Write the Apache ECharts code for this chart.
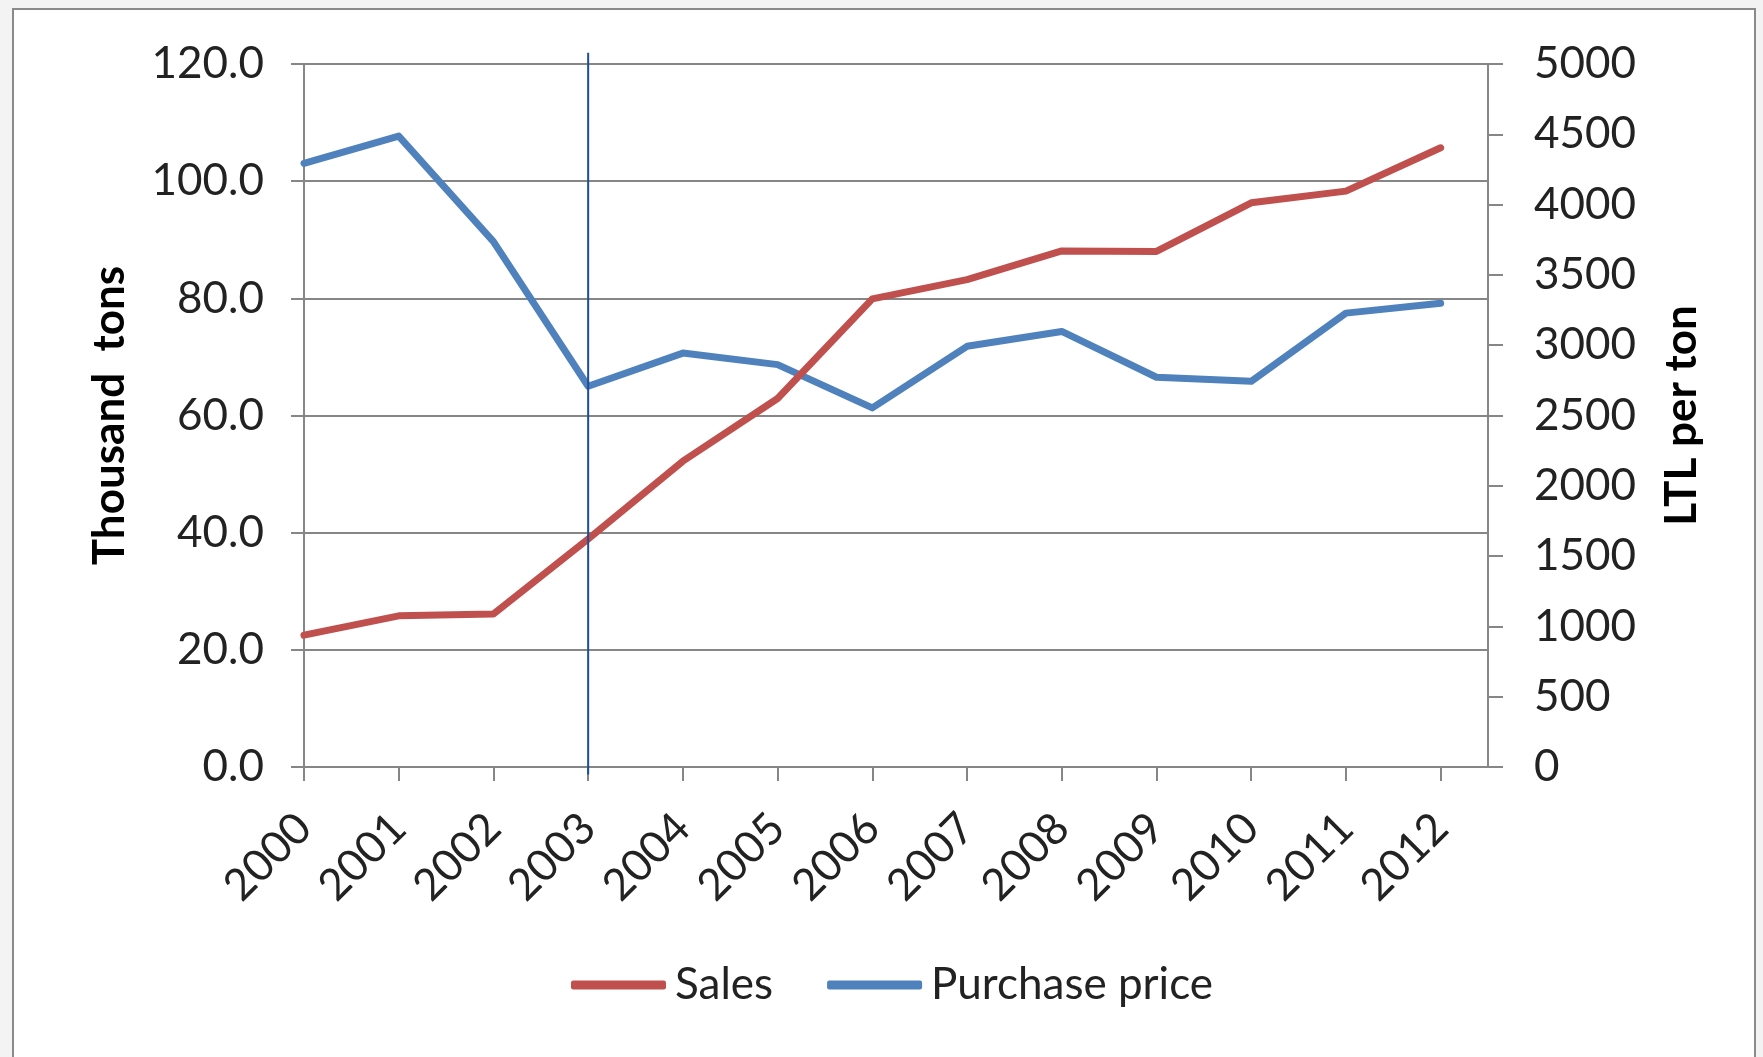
<!DOCTYPE html>
<html>
<head>
<meta charset="utf-8">
<title>Sales and purchase price</title>
<script src="https://cdn.jsdelivr.net/npm/echarts@6/dist/echarts.min.js"></script>
<style>
  html, body { margin: 0; padding: 0; background: #f3f3f3; }
  .frame {
    position: absolute; left: 12px; top: 8px; width: 1744px; height: 1100px;
    background: #fff; border: 2px solid #8a8a8a; box-sizing: border-box;
  }
  #chart { position: absolute; left: 0; top: 0; width: 1763px; height: 1057px; }
</style>
</head>
<body>
<div class="frame"></div>
<div id="chart"></div>
<script>
const years = [2000, 2001, 2002, 2003, 2004, 2005, 2006, 2007, 2008, 2009, 2010, 2011, 2012];
const sales = [22.5, 25.8, 26.1, 38.9, 52.2, 62.9, 79.9, 83.2, 88.1, 88.0, 96.3, 98.3, 105.7];
const purchasePrice = [4293, 4487, 3737, 2708, 2944, 2862, 2554, 2992, 3098, 2772, 2743, 3228, 3299];
// vertical marker at 2003, drawn a little past the plot on both ends
const markerYear = 2003;
const markerSpan = [121.9, -1.3];

const chart = echarts.init(document.getElementById('chart'));

const font = 'Lato, "Open Sans", sans-serif';
const grey = '#868686';
const textColor = '#222';

const option = {
  backgroundColor: 'transparent',
  animation: false,
  textStyle: { fontFamily: font },
  grid: {
    left: 304,
    right: 275,
    top: 64,
    bottom: 290,
    containLabel: false,
    outerBoundsMode: 'none'
  },
  legend: {
    data: ['Sales', 'Purchase price'],
    icon: 'roundRect',
    left: 566,
    top: 958,
    itemWidth: 95,
    itemHeight: 9,
    itemGap: 54,
    textStyle: { fontSize: 44, color: textColor, fontFamily: font, padding: [0, 0, 0, 4] }
  },
  xAxis: {
    type: 'value',
    min: 2000,
    max: 2012.5,
    interval: 1,
    axisLine: { show: true, lineStyle: { color: grey, width: 2 } },
    axisTick: { show: true, length: 14, lineStyle: { color: grey, width: 2 }, customValues: years },
    axisLabel: {
      rotate: 45,
      margin: 54,
      fontSize: 44,
      color: textColor,
      fontFamily: font,
      customValues: years,
      formatter: v => String(v)
    },
    splitLine: { show: false }
  },
  yAxis: [
    {
      type: 'value',
      min: 0,
      max: 120,
      interval: 20,
      name: 'Thousand  tons',
      nameLocation: 'middle',
      nameGap: 172,
      nameTextStyle: { fontSize: 44, fontWeight: 'bold', color: '#000', fontFamily: font },
      axisLine: { show: true, lineStyle: { color: grey, width: 2 } },
      axisTick: { show: true, length: 13, lineStyle: { color: grey, width: 2 } },
      axisLabel: { margin: 40, fontSize: 44, color: textColor, fontFamily: font, formatter: v => v.toFixed(1) },
      splitLine: { show: true, lineStyle: { color: grey, width: 2 } }
    },
    {
      type: 'value',
      min: 0,
      max: 5000,
      interval: 500,
      position: 'right',
      name: 'LTL per ton',
      nameLocation: 'middle',
      nameGap: 172,
      nameTextStyle: { fontSize: 44, fontWeight: 'bold', color: '#000', fontFamily: font },
      axisLine: { show: true, lineStyle: { color: grey, width: 2 } },
      axisTick: { show: true, length: 15, lineStyle: { color: grey, width: 2 } },
      axisLabel: { margin: 46, fontSize: 44, color: textColor, fontFamily: font, formatter: v => String(v) },
      splitLine: { show: false }
    }
  ],
  series: [
    {
      name: 'Purchase price',
      type: 'line',
      yAxisIndex: 1,
      data: years.map((y, i) => [y, purchasePrice[i]]),
      symbol: 'none',
      z: 2,
      lineStyle: { color: '#4F81BD', width: 7, cap: 'round', join: 'round' },
      itemStyle: { color: '#4F81BD' }
    },
    {
      name: 'Sales',
      type: 'line',
      yAxisIndex: 0,
      data: years.map((y, i) => [y, sales[i]]),
      symbol: 'none',
      z: 3,
      lineStyle: { color: '#C0504D', width: 7, cap: 'round', join: 'round' },
      itemStyle: { color: '#C0504D' }
    },
    {
      name: 'marker',
      type: 'line',
      yAxisIndex: 0,
      data: markerSpan.map(v => [markerYear, v]),
      symbol: 'none',
      clip: false,
      silent: true,
      z: 4,
      lineStyle: { color: '#1F4E96', width: 2 }
    }
  ]
};

chart.setOption(option);

window.addEventListener('resize', () => {
  chart.resize();
});
</script>
</body>
</html>
